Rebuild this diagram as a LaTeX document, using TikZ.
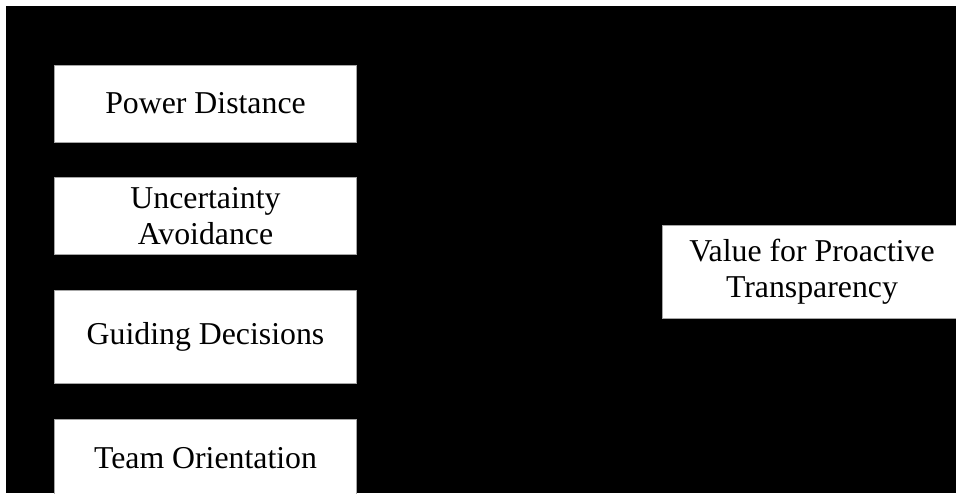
\documentclass[tikz,border=0pt]{standalone}
\usepackage{fontspec}
\setmainfont{Liberation Serif}
\usetikzlibrary{positioning}

\begin{document}
\begin{tikzpicture}[x=1pt, y=-1pt, node distance=35pt,
    factor/.style={draw=gray!70, line width=0.8pt, fill=white, minimum width=302pt,
        minimum height=77pt, inner sep=0pt, align=center,
        font=\fontsize{31.8}{36.5}\selectfont},
    tall/.style={minimum height=93pt}]
    % page with the dark backdrop
    \useasboundingbox (0,0) rectangle (956,493);
    \clip (0,0) rectangle (956,493);
    \fill[white] (0,0) rectangle (956,493);
    \fill[black] (6,6) rectangle (956,493);

    % cultural factors
    \node[factor] (pd) at (205.5,103.5) {Power Distance};
    \node[factor, below=of pd] (ua) {Uncertainty\\Avoidance};
    \node[factor, tall, below=of ua] (gd) {Guiding Decisions};
    \node[factor, below=of gd] (to) {Team Orientation};

    % outcome
    \node[factor, tall, minimum width=299pt] (vpt) at (812,271.5) {Value for Proactive\\Transparency};
\end{tikzpicture}
\end{document}
